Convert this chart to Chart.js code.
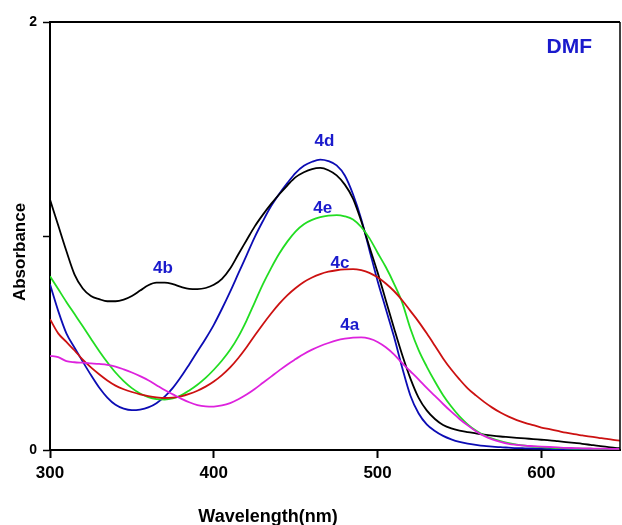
<!DOCTYPE html>
<html>
<head>
<meta charset="utf-8">
<script src="https://cdn.jsdelivr.net/npm/chart.js@4/dist/chart.umd.min.js"></script>
<style>
  html, body { margin: 0; padding: 0; background: #ffffff; }
  #wrap { width: 622px; height: 525px; }
</style>
</head>
<body>
<div id="wrap"><canvas id="c" width="622" height="525"></canvas></div>
<script>
// UV-Vis absorption spectra of compounds 4a-4e in DMF
const wavelength = [
  300, 305, 310, 315, 320, 325, 330, 335, 340, 345,
  350, 355, 360, 365, 370, 375, 380, 385, 390, 395,
  400, 405, 410, 415, 420, 425, 430, 435, 440, 445,
  450, 455, 460, 465, 470, 475, 480, 485, 490, 495,
  500, 505, 510, 515, 520, 525, 530, 535, 540, 545,
  550, 555, 560, 565, 570, 575, 580, 585, 590, 595,
  600, 605, 610, 615, 620, 625, 630, 635, 640, 645, 650
];

const abs4a = [
  0.440, 0.434, 0.415, 0.410, 0.408, 0.405, 0.402, 0.398, 0.390, 0.377,
  0.362, 0.345, 0.326, 0.303, 0.280, 0.260, 0.240, 0.223, 0.210, 0.204,
  0.203, 0.208, 0.219, 0.237, 0.259, 0.285, 0.314, 0.343, 0.372, 0.400,
  0.425, 0.449, 0.469, 0.486, 0.500, 0.512, 0.520, 0.525, 0.526, 0.520,
  0.505, 0.480, 0.447, 0.406, 0.368, 0.330, 0.290, 0.253, 0.215, 0.179,
  0.145, 0.115, 0.088, 0.066, 0.050, 0.038, 0.029, 0.024, 0.020, 0.018,
  0.016, 0.014, 0.012, 0.010, 0.009, 0.008, 0.007, 0.006, 0.006, 0.005, 0.005
];

const abs4b = [
  1.170, 1.050, 0.930, 0.820, 0.755, 0.720, 0.705, 0.695, 0.695, 0.703,
  0.720, 0.745, 0.770, 0.782, 0.782, 0.775, 0.762, 0.753, 0.752, 0.757,
  0.772, 0.800, 0.848, 0.915, 0.980, 1.045, 1.100, 1.150, 1.195, 1.237,
  1.275, 1.298, 1.313, 1.318, 1.307, 1.283, 1.240, 1.175, 1.070, 0.950,
  0.830, 0.700, 0.570, 0.445, 0.335, 0.245, 0.185, 0.145, 0.117, 0.101,
  0.091, 0.084, 0.078, 0.072, 0.067, 0.063, 0.060, 0.057, 0.054, 0.051,
  0.048, 0.045, 0.041, 0.037, 0.033, 0.029, 0.024, 0.019, 0.015, 0.010, 0.007
];

const abs4c = [
  0.611, 0.545, 0.505, 0.465, 0.422, 0.386, 0.354, 0.325, 0.301, 0.284,
  0.271, 0.260, 0.252, 0.246, 0.243, 0.245, 0.251, 0.262, 0.277, 0.296,
  0.320, 0.350, 0.386, 0.430, 0.480, 0.535, 0.588, 0.638, 0.684, 0.724,
  0.757, 0.785, 0.806, 0.822, 0.833, 0.840, 0.844, 0.845, 0.840, 0.828,
  0.807, 0.778, 0.743, 0.700, 0.650, 0.600, 0.545, 0.487, 0.428, 0.376,
  0.330, 0.288, 0.255, 0.225, 0.198, 0.175, 0.156, 0.140, 0.127, 0.116,
  0.105, 0.097, 0.089, 0.081, 0.074, 0.068, 0.062, 0.057, 0.052, 0.046, 0.042
];

const abs4d = [
  0.774, 0.650, 0.545, 0.478, 0.413, 0.350, 0.292, 0.245, 0.211, 0.193,
  0.186, 0.189, 0.199, 0.219, 0.249, 0.290, 0.342, 0.400, 0.460, 0.520,
  0.585, 0.660, 0.740, 0.825, 0.910, 0.995, 1.070, 1.140, 1.197, 1.248,
  1.295, 1.328, 1.347, 1.357, 1.350, 1.330, 1.283, 1.195, 1.080, 0.935,
  0.790, 0.660, 0.530, 0.385, 0.255, 0.172, 0.120, 0.089, 0.066, 0.050,
  0.038, 0.030, 0.024, 0.019, 0.016, 0.013, 0.011, 0.009, 0.008, 0.007,
  0.006, 0.005, 0.004, 0.004, 0.003, 0.003, 0.003, 0.002, 0.002, 0.002, 0.002
];

const abs4e = [
  0.812, 0.752, 0.692, 0.635, 0.578, 0.520, 0.463, 0.410, 0.362, 0.322,
  0.289, 0.264, 0.247, 0.238, 0.236, 0.241, 0.255, 0.278, 0.305, 0.337,
  0.375, 0.418, 0.468, 0.530, 0.605, 0.690, 0.775, 0.850, 0.918, 0.975,
  1.022, 1.055, 1.075, 1.088, 1.095, 1.098, 1.092, 1.077, 1.042, 0.990,
  0.922, 0.855, 0.778, 0.690, 0.568, 0.468, 0.390, 0.320, 0.256, 0.203,
  0.157, 0.120, 0.091, 0.069, 0.053, 0.041, 0.032, 0.025, 0.020, 0.016,
  0.013, 0.011, 0.009, 0.008, 0.007, 0.006, 0.006, 0.005, 0.005, 0.005, 0.004
];

const xTicks = [300, 400, 500, 600];
const yTicks = [0, 1, 2];
const yTickLabels = ['0', '', '2'];

// curve labels: text, wavelength, absorbance
const curveLabels = [
  { text: '4d', x: 467.5, y: 1.442 },
  { text: '4e', x: 466.5, y: 1.130 },
  { text: '4c', x: 477.0, y: 0.874 },
  { text: '4b', x: 369.0, y: 0.847 },
  { text: '4a', x: 483.0, y: 0.581 }
];
const solventLabel = { text: 'DMF', x: 617, y: 1.880 };

const FONT = "'Liberation Sans', Arial, sans-serif";
const LABEL_BLUE = '#1a1acc';

function toPoints(ys) {
  return wavelength.map((w, i) => ({ x: w, y: ys[i] }));
}

function series(label, ys, color) {
  return {
    label: label,
    data: toPoints(ys),
    borderColor: color,
    backgroundColor: color,
    borderWidth: 1.8,
    pointRadius: 0,
    cubicInterpolationMode: 'monotone',
    fill: false
  };
}

const framePlugin = {
  id: 'frameAndText',
  afterDraw(chart) {
    const ctx = chart.ctx;
    const a = chart.chartArea;
    const xs = chart.scales.x, ys = chart.scales.y;
    ctx.save();
    // top and right frame lines
    ctx.strokeStyle = '#000';
    ctx.lineWidth = 2;
    ctx.beginPath();
    ctx.moveTo(a.left, a.top);
    ctx.lineTo(a.right, a.top);
    ctx.stroke();
    ctx.lineWidth = 1.5;
    ctx.beginPath();
    ctx.moveTo(a.right, a.top);
    ctx.lineTo(a.right, a.bottom);
    ctx.stroke();

    // axis titles
    ctx.fillStyle = '#000';
    ctx.font = 'bold 18px ' + FONT;
    ctx.textAlign = 'center';
    ctx.textBaseline = 'alphabetic';
    ctx.fillText('Wavelength(nm)', 268, 522);

    ctx.save();
    ctx.translate(25, 252);
    ctx.rotate(-Math.PI / 2);
    ctx.font = 'bold 17px ' + FONT;
    ctx.textBaseline = 'alphabetic';
    ctx.fillText('Absorbance', 0, 0);
    ctx.restore();

    // curve labels
    ctx.fillStyle = LABEL_BLUE;
    ctx.textBaseline = 'middle';
    ctx.font = 'bold 17px ' + FONT;
    curveLabels.forEach(l => {
      ctx.fillText(l.text, xs.getPixelForValue(l.x), ys.getPixelForValue(l.y));
    });
    ctx.font = 'bold 21px ' + FONT;
    ctx.fillText(solventLabel.text, xs.getPixelForValue(solventLabel.x), ys.getPixelForValue(solventLabel.y));
    ctx.restore();
  }
};

new Chart(document.getElementById('c'), {
  type: 'line',
  data: {
    datasets: [
      series('4a', abs4a, '#dd22dd'),
      series('4c', abs4c, '#cc1111'),
      series('4e', abs4e, '#22dd22'),
      series('4b', abs4b, '#000000'),
      series('4d', abs4d, '#0c0cb4')
    ]
  },
  options: {
    responsive: false,
    animation: false,
    devicePixelRatio: 1,
    layout: { padding: { top: 22, right: 2, left: 0, bottom: 0 } },
    plugins: {
      legend: { display: false },
      tooltip: { enabled: false },
      title: { display: false }
    },
    scales: {
      x: {
        type: 'linear',
        min: 300,
        max: 648,
        afterBuildTicks: s => { s.ticks = xTicks.map(v => ({ value: v })); },
        afterFit: s => { s.height = 75; },
        ticks: {
          color: '#000',
          font: { family: FONT, size: 17, weight: 'bold' },
          padding: 5,
          maxRotation: 0
        },
        grid: {
          display: true,
          drawOnChartArea: false,
          drawTicks: true,
          tickLength: 8,
          tickColor: '#000',
          tickWidth: 2
        },
        border: { display: true, color: '#000', width: 2 }
      },
      y: {
        type: 'linear',
        min: 0,
        max: 2,
        afterBuildTicks: s => { s.ticks = yTicks.map(v => ({ value: v })); },
        afterFit: s => { s.width = 50; },
        ticks: {
          color: '#000',
          font: { family: FONT, size: 14, weight: 'bold' },
          padding: 6,
          callback: (v) => yTickLabels[yTicks.indexOf(v)]
        },
        grid: {
          display: true,
          drawOnChartArea: false,
          drawTicks: true,
          tickLength: 7,
          tickColor: '#000',
          tickWidth: 1.5
        },
        border: { display: true, color: '#000', width: 2 }
      }
    }
  },
  plugins: [framePlugin]
});
</script>
</body>
</html>
